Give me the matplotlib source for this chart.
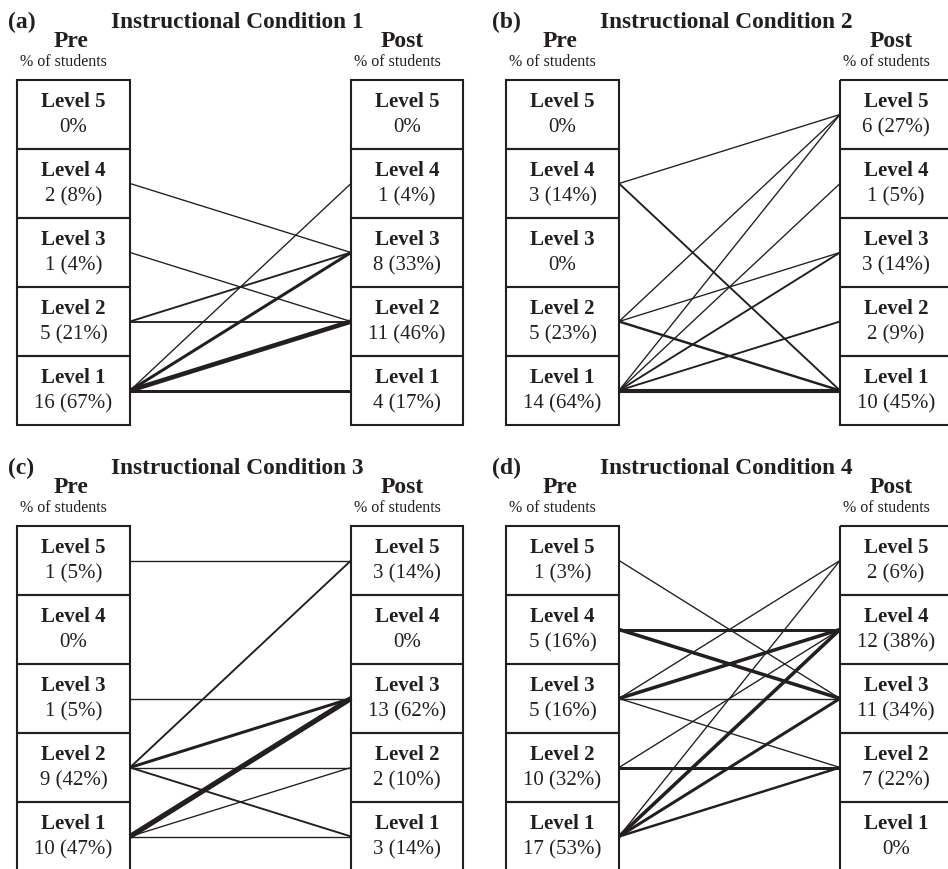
import matplotlib

matplotlib.use("Agg")
import matplotlib.pyplot as plt  # noqa: E402
from matplotlib.patches import Rectangle  # noqa: E402

plt.rcParams["font.family"] = ["Liberation Serif", "DejaVu Serif"]
INK = "#231f20"

# ---------------------------------------------------------------- data
# counts / percentages per level, ordered Level 1 .. Level 5
LEVELS = [1, 2, 3, 4, 5]
PANELS = ["(a)", "(b)", "(c)", "(d)"]
TITLES = ["Instructional Condition 1", "Instructional Condition 2",
          "Instructional Condition 3", "Instructional Condition 4"]

PRE_N = [[16, 5, 1, 2, 0], [14, 5, 0, 3, 0], [10, 9, 1, 0, 1], [17, 10, 5, 5, 1]]
PRE_PCT = [[67, 21, 4, 8, 0], [64, 23, 0, 14, 0], [47, 42, 5, 0, 5], [53, 32, 16, 16, 3]]
POST_N = [[4, 11, 8, 1, 0], [10, 2, 3, 1, 6], [3, 2, 13, 0, 3], [0, 7, 11, 12, 2]]
POST_PCT = [[17, 46, 33, 4, 0], [45, 9, 14, 5, 27], [14, 10, 62, 0, 14], [0, 22, 34, 38, 6]]

# transitions (pre level, post level, line weight)
FLOW_1 = [(4, 3, 1), (3, 2, 1), (2, 3, 2), (2, 2, 2),
          (1, 4, 1), (1, 3, 4), (1, 2, 7), (1, 1, 4)]
FLOW_2 = [(4, 5, 1), (4, 1, 2), (2, 5, 1), (2, 3, 1), (2, 1, 3),
          (1, 5, 1), (1, 4, 1), (1, 3, 2), (1, 2, 2), (1, 1, 6)]
FLOW_3 = [(5, 5, 1), (3, 3, 1), (2, 5, 2), (2, 3, 4), (2, 2, 1), (2, 1, 2),
          (1, 3, 8), (1, 2, 1), (1, 1, 1)]
FLOW_4 = [(5, 3, 1), (4, 4, 4), (4, 3, 5), (3, 5, 1), (3, 4, 5), (3, 3, 1),
          (3, 2, 1), (2, 4, 1), (2, 2, 4), (1, 5, 1), (1, 4, 5), (1, 3, 4),
          (1, 2, 3)]
FLOWS = [FLOW_1, FLOW_2, FLOW_3, FLOW_4]

# ---------------------------------------------------------------- layout (pixels)
W, H = 948, 870
PW, PH = 474, 435
ORIGINS = [(0, 0), (489, 0), (0, 446), (489, 446)]
TAG_X = [8, 3, 8, 3]
BOX_L = (17, 130)
BOX_R = (351, 463)
TOP, ROW = 81, 69
PX = 0.72  # points per pixel at dpi 100


def row_top(level):
    return TOP + (5 - level) * ROW


def label(n, pct):
    return "0%" if n == 0 else f"{n} ({pct}%)"


def draw_column(ax, x0, x1, ns, pcts):
    cx = (x0 + x1) / 2
    for lev, n, p in zip(LEVELS, ns, pcts):
        y = row_top(lev)
        ax.add_patch(Rectangle((x0, y), x1 - x0, ROW, fill=False,
                               ec=INK, lw=1.5, zorder=3))
        ax.text(cx, y + 26, f"Level {lev}", ha="center", va="baseline",
                fontsize=15, fontweight="bold", color=INK)
        ax.text(cx, y + 51, label(n, p), ha="center", va="baseline",
                fontsize=15, color=INK)


fig = plt.figure(figsize=(W / 100, H / 100), dpi=100)
for i in range(4):
    ox, oy = ORIGINS[i]
    ax = fig.add_axes([ox / W, 1 - (oy + PH) / H, PW / W, PH / H])
    ax.set_xlim(0, PW)
    ax.set_ylim(PH, 0)
    ax.axis("off")

    ax.text(TAG_X[i], 28, PANELS[i], ha="left", va="baseline",
            fontsize=17, fontweight="bold", color=INK)
    ax.text(237, 28, TITLES[i], ha="center", va="baseline",
            fontsize=16.8, fontweight="bold", color=INK)
    ax.text(71, 47, "Pre", ha="center", va="baseline",
            fontsize=17, fontweight="bold", color=INK)
    ax.text(63, 66, "% of students", ha="center", va="baseline",
            fontsize=11.5, color=INK)
    ax.text(402, 47, "Post", ha="center", va="baseline",
            fontsize=17, fontweight="bold", color=INK)
    ax.text(397, 66, "% of students", ha="center", va="baseline",
            fontsize=11.5, color=INK)

    draw_column(ax, *BOX_L, PRE_N[i], PRE_PCT[i])
    draw_column(ax, *BOX_R, POST_N[i], POST_PCT[i])

    for a, b, w in FLOWS[i]:
        ya = row_top(a) + ROW / 2
        yb = row_top(b) + ROW / 2
        ax.plot([BOX_L[1], BOX_R[0]], [ya, yb], color=INK,
                lw=(0.8 + 0.55 * w) * PX, solid_capstyle="butt", zorder=2)

fig.savefig("out.png", dpi=100)
